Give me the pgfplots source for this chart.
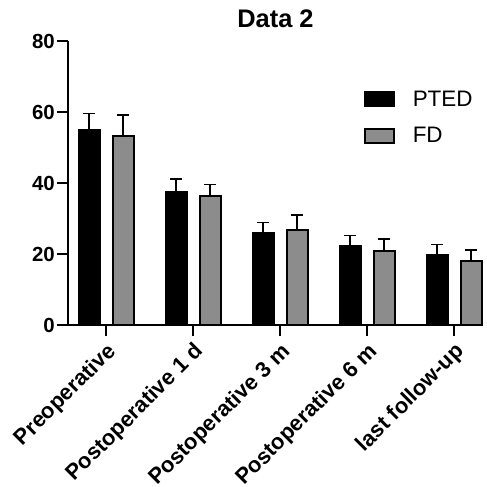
\documentclass[border=0pt]{standalone}
\usepackage{pgfplots}
\pgfplotsset{compat=1.18}
\usepackage{fontspec}
\setmainfont{Liberation Sans}
\definecolor{fdgray}{HTML}{8C8C8C}

\begin{document}
\begin{tikzpicture}
\begin{axis}[
  at={(0,0)}, anchor=south west,
  scale only axis, width=415bp, height=284bp,
  ymin=0, ymax=80, xmin=-0.44, xmax=4.33,
  ytick={0,20,40,60,80},
  yticklabel={\textbf{\pgfmathprintnumber{\tick}}},
  xtick={0,1,2,3,4},
  xticklabels={\textbf{Preoperative},\textbf{Postoperative 1 d},\textbf{Postoperative 3 m},\textbf{Postoperative 6 m},\textbf{last follow-up}},
  x tick label style={rotate=45, anchor=north east, inner sep=1bp, xshift=-3bp, yshift=-2bp,
    font=\fontsize{22}{24}\selectfont},
  y tick label style={font=\fontsize{20.5}{22}\selectfont, inner sep=2bp},
  /pgf/number format/assume math mode=true,
  axis lines*=left, axis line style={line width=2bp},
  tick style={line width=2bp, black}, major tick length=11bp,
  tick align=outside,
  title={\textbf{Data 2}}, title style={font=\fontsize{25.5}{27}\selectfont, yshift=4bp},
  ybar, bar width=21bp,
  legend cell align=left,
  legend style={at={(0.705,0.84)}, anchor=north west, draw=none, fill=none,
    font=\fontsize{22.5}{24}\selectfont, row sep=16bp,
    /tikz/every odd column/.append style={column sep=16bp}},
  legend image code/.code={\draw[#1,line width=2bp] (0bp,-7bp) rectangle (29bp,7bp);},
  error bars/y dir=plus, error bars/y explicit,
  error bars/error bar style={line width=1.6bp, black},
  error bars/error mark options={rotate=90, mark size=6bp, line width=1.6bp, black},
]
\addplot[fill=black, draw=black, line width=2bp, bar shift=-17bp]
  coordinates {(0,55.0) +- (0,4.6) (1,37.4) +- (0,3.7) (2,25.8) +- (0,3.1) (3,22.3) +- (0,2.9) (4,19.6) +- (0,3.1)};
\addlegendentry{PTED}
\addplot[fill=fdgray, draw=black, line width=2bp, bar shift=17bp]
  coordinates {(0,53.2) +- (0,6.0) (1,36.2) +- (0,3.4) (2,26.8) +- (0,4.2) (3,20.9) +- (0,3.4) (4,18.1) +- (0,3.1)};
\addlegendentry{FD}
\end{axis}
\pgfresetboundingbox
\path (-68bp,-162bp) rectangle (419bp,325bp);
\end{tikzpicture}
\end{document}
